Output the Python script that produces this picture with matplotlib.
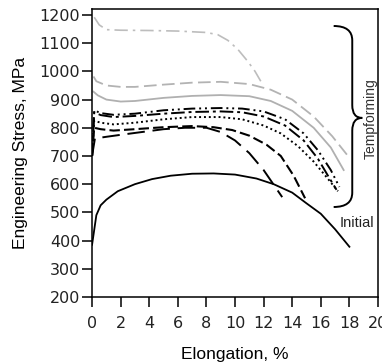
import matplotlib
matplotlib.use("Agg")
import matplotlib.pyplot as plt
from matplotlib.path import Path
from matplotlib.patches import PathPatch

plt.rcParams['font.family'] = ['Liberation Sans', 'DejaVu Sans']

# stress-strain curves (elongation %, stress MPa)
initial_x = [0, 0.1, 0.3, 0.6, 1.0, 1.8, 3, 4.2, 5.5, 7, 8.5, 10, 11.5, 12.7, 14, 15, 16, 17, 18]
initial_y = [385, 420, 490, 525, 545, 575, 600, 618, 630, 637, 638, 634, 620, 600, 570, 532, 495, 440, 378]

gray_dashdot_x = [0.15, 0.5, 1.0, 2, 4, 6, 8, 8.8, 9.5, 10.2, 10.9, 11.4, 11.8]
gray_dashdot_y = [1192, 1165, 1148, 1146, 1145, 1143, 1138, 1130, 1110, 1078, 1035, 1000, 965]

gray_dashed_x = [0.1, 0.3, 1, 2, 3, 5, 7, 9, 11, 12.5, 14, 15.5, 16.8, 17.9]
gray_dashed_y = [982, 965, 950, 945, 945, 953, 960, 963, 955, 935, 900, 840, 770, 700]

gray_solid_x = [0.1, 0.4, 1, 2, 3, 5, 7, 9, 11, 12.5, 14, 15.5, 16.7, 17.6]
gray_solid_y = [928, 915, 900, 893, 895, 906, 913, 916, 912, 895, 860, 800, 730, 650]

black_a_x = [0, 0.15, 0.6, 1.5, 3, 5, 7, 9, 10.5, 12, 13.5, 14.8, 15.8, 16.7, 17.3]
black_a_y = [700, 862, 852, 846, 850, 862, 868, 870, 868, 858, 830, 780, 720, 650, 590]

black_b_x = [0, 0.15, 0.6, 1.5, 3, 5, 7, 9, 10.5, 12, 13.5, 14.8, 15.8, 16.5, 17.1]
black_b_y = [700, 855, 845, 838, 842, 850, 856, 858, 855, 840, 808, 755, 690, 630, 580]

black_c_x = [0, 0.15, 0.6, 1.5, 3, 5, 7, 9, 10.5, 12, 13.2, 14.4, 15.5, 16.4, 17.2]
black_c_y = [700, 825, 818, 812, 818, 830, 838, 838, 830, 808, 780, 735, 680, 625, 575]

black_d_x = [0, 0.15, 0.6, 1.5, 3, 5, 7, 8.5, 9.8, 11, 12.2, 13.2, 14.1, 14.9]
black_d_y = [700, 800, 795, 790, 795, 802, 806, 802, 792, 772, 740, 700, 630, 550]

black_e_x = [0, 0.2, 1, 2, 3.5, 5, 6.5, 8.0, 9.0, 10.0, 11.0, 12.0, 13.3]
black_e_y = [700, 762, 768, 775, 785, 795, 800, 800, 785, 755, 710, 650, 554]

x_ticks = [0, 2, 4, 6, 8, 10, 12, 14, 16, 18, 20]
y_ticks = [200, 300, 400, 500, 600, 700, 800, 900, 1000, 1100, 1200]

fig = plt.figure(figsize=(3.82, 3.63), dpi=100)
ax = fig.add_axes([0.241, 0.182, 0.7485, 0.793])

ax.plot(initial_x, initial_y, color='black', lw=1.3)
ax.plot(gray_dashdot_x, gray_dashdot_y, color='#bdbdbd', lw=1.2, dashes=(8, 3, 1.5, 3))
ax.plot(gray_dashed_x, gray_dashed_y, color='#b3b3b3', lw=1.3, dashes=(7, 3))
ax.plot(gray_solid_x, gray_solid_y, color='#b0b0b0', lw=1.3)
ax.plot(black_a_x, black_a_y, color='black', lw=1.4, dashes=(6, 2, 1, 2, 1, 2))
ax.plot(black_b_x, black_b_y, color='black', lw=1.4, dashes=(7, 2, 1.5, 2))
ax.plot(black_c_x, black_c_y, color='black', lw=1.4, dashes=(1, 1.5))
ax.plot(black_d_x, black_d_y, color='black', lw=1.5, dashes=(5, 2))
ax.plot(black_e_x, black_e_y, color='black', lw=1.4, dashes=(9, 4))

# curly brace for the tempforming group
verts = [(16.9, 1161), (18.2, 1161), (18.2, 1110),
         (18.2, 880),
         (18.2, 835), (18.9, 835),
         (18.2, 835), (18.2, 790),
         (18.2, 570),
         (18.2, 519), (16.9, 519)]
codes = [Path.MOVETO, Path.CURVE3, Path.CURVE3,
         Path.LINETO,
         Path.CURVE3, Path.CURVE3,
         Path.CURVE3, Path.CURVE3,
         Path.LINETO,
         Path.CURVE3, Path.CURVE3]
ax.add_patch(PathPatch(Path(verts, codes), facecolor='none', edgecolor='black', lw=1.4))

ax.text(19.5, 833, 'Tempforming', rotation=90, ha='center', va='center', fontsize=10, color='#333333')
ax.text(17.3, 462, 'Initial', ha='left', va='center', fontsize=10.5, color='#222222')

ax.set_xlim(0, 20)
ax.set_ylim(200, 1221)
ax.set_xticks(x_ticks)
ax.set_yticks(y_ticks)
ax.tick_params(axis='both', direction='out', length=7.5, width=1.1, labelsize=11.5)
ax.tick_params(axis='y', pad=1)
ax.tick_params(axis='x', pad=6)
for lbl in ax.get_xticklabels() + ax.get_yticklabels():
    lbl.set_fontfamily('DejaVu Sans')
    lbl.set_color('#222222')
for sp in ax.spines.values():
    sp.set_linewidth(1.1)

ax.set_xlabel('Elongation, %', fontsize=12.5)
ax.set_ylabel('Engineering Stress, MPa', fontsize=12.5)
ax.xaxis.set_label_coords(0.5, -0.175)
ax.yaxis.set_label_coords(-0.225, 0.5)

fig.savefig('out.png', dpi=100)
